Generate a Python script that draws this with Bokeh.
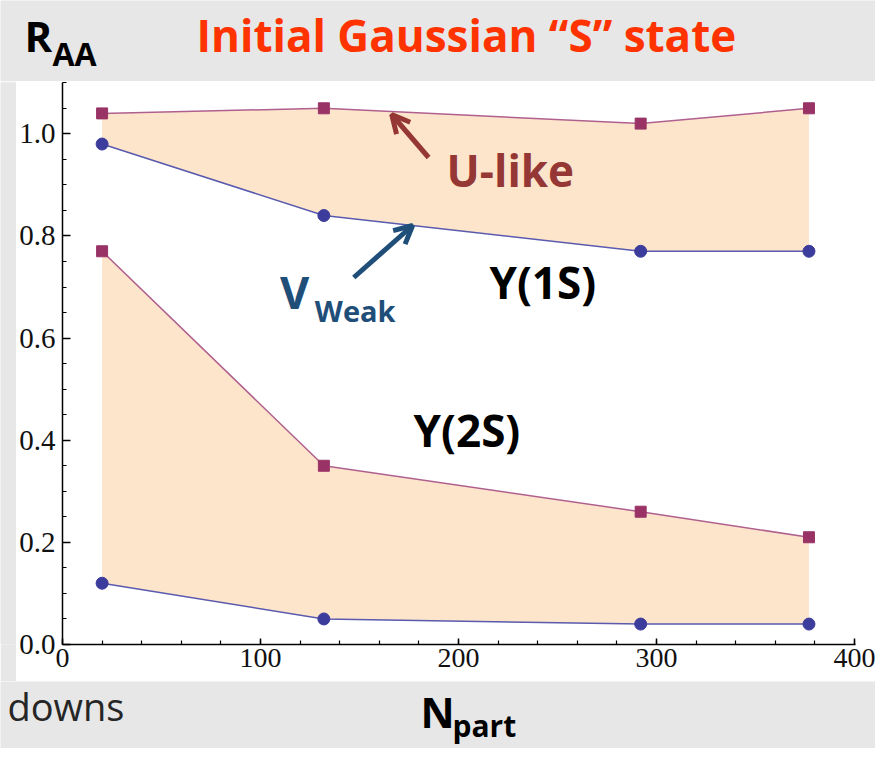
from bokeh.plotting import figure
from bokeh.models import (Range1d, Arrow, OpenHead, PrintfTickFormatter,
                          SingleIntervalTicker)
from bokeh.layouts import column, row
from bokeh.core.properties import value
from bokeh.embed import file_html
from bokeh.resources import INLINE

# ---- data ----
npart = [20, 132, 292, 377]
y1s_ulike = [1.04, 1.05, 1.02, 1.05]
y1s_vweak = [0.98, 0.84, 0.77, 0.77]
y2s_ulike = [0.77, 0.35, 0.26, 0.21]
y2s_vweak = [0.12, 0.05, 0.04, 0.04]
x_major = 100
y_major = 0.2

GREY = "#e7e7e7"
SANS = "Open Sans"
BASE_K = 0.43  # measured shift of the rendered baseline, in em

# ---- layout geometry (pixels from the layout's top-left corner) ----
TOTAL_W, TOTAL_H = 875, 748
PANEL_L, PANEL_T, PANEL_B = 16, 81, 681
FRAME_L, FRAME_T, FRAME_R, FRAME_B = 60, 82, 855, 644


def strip(y_top, y_bot, x_left=0, x_right=TOTAL_W):
    f = figure(width=x_right - x_left, height=y_bot - y_top,
               output_backend="svg", toolbar_location=None,
               x_range=Range1d(x_left, x_right), y_range=Range1d(y_bot, y_top),
               x_axis_type=None, y_axis_type=None,
               min_border=0, min_border_left=0, min_border_right=0,
               min_border_top=0, min_border_bottom=0,
               background_fill_color=GREY, border_fill_color=GREY,
               outline_line_color=None)
    f.grid.visible = False
    return f


def txt(f, s, x, base, size, color, bold=True, ymap=lambda v: v):
    f.text(x=[x], y=[ymap(base - BASE_K * size)], text=[s], text_font=value(SANS),
           text_font_size=value(f"{size}px"), text_color=color,
           text_font_style="bold" if bold else "normal",
           text_baseline="alphabetic", text_align="left")


# ---- top strip: R_AA and title ----
top = strip(0, PANEL_T)
txt(top, "R", 24, 53, 42, "black")
txt(top, "AA", 52, 67, 32, "black")
txt(top, "Initial Gaussian \u201cS\u201d state", 196, 53, 44, "#ff3300")

# ---- left grey spacer ----
spacer = strip(PANEL_T, PANEL_B, 0, PANEL_L)

# ---- main plot ----
X0, X1 = 0, 400.504
Y0, Y1 = 0, 1.1005
FW = FRAME_R - FRAME_L
FH = FRAME_B - FRAME_T


def fx(px):
    return X0 + (px - FRAME_L) * (X1 - X0) / FW


def fy(py):
    return Y1 - (py - FRAME_T) * (Y1 - Y0) / FH


p = figure(width=TOTAL_W - PANEL_L, height=PANEL_B - PANEL_T,
           output_backend="svg", toolbar_location=None,
           x_range=Range1d(X0, X1), y_range=Range1d(Y0, Y1),
           min_border_left=FRAME_L - PANEL_L, min_border_top=FRAME_T - PANEL_T,
           min_border_right=TOTAL_W - FRAME_R, min_border_bottom=PANEL_B - FRAME_B,
           border_fill_color="white", background_fill_color="white",
           outline_line_color=None)
p.xgrid.visible = False
p.ygrid.visible = False

p.xaxis.ticker = SingleIntervalTicker(interval=x_major, num_minor_ticks=5)
p.yaxis.ticker = SingleIntervalTicker(interval=y_major, num_minor_ticks=4)
p.yaxis.formatter = PrintfTickFormatter(format="%.1f")
for ax in (p.xaxis[0], p.yaxis[0]):
    ax.axis_line_color = "black"
    ax.axis_line_width = 1.5
    ax.major_tick_line_color = "black"
    ax.minor_tick_line_color = "black"
    ax.major_tick_line_width = 1.5
    ax.minor_tick_line_width = 1.2
    ax.major_tick_out = 0
    ax.minor_tick_out = 0
    ax.minor_tick_in = 4
    ax.major_label_text_font = "Liberation Serif"
    ax.major_label_text_color = "#111111"
p.yaxis.major_label_text_font_size = "29px"
p.xaxis.major_label_text_font_size = "28px"
p.yaxis.major_tick_in = 8
p.xaxis.major_tick_in = 6
p.yaxis.major_label_standoff = 7
p.xaxis.major_label_standoff = 4

FILL = "#fde5cc"
p.varea(x=npart, y1=y1s_vweak, y2=y1s_ulike, fill_color=FILL)
p.varea(x=npart, y1=y2s_vweak, y2=y2s_ulike, fill_color=FILL)

UL, UM = "#b0608e", "#993366"
VL, VM = "#5a5aae", "#3c3c9c"
for yu, yv in ((y1s_ulike, y1s_vweak), (y2s_ulike, y2s_vweak)):
    p.line(npart, yu, line_color=UL, line_width=1.5)
    p.line(npart, yv, line_color=VL, line_width=1.5)
    p.scatter(npart, yu, marker="square", size=11, fill_color=UM, line_color=UM)
    p.scatter(npart, yv, marker="circle", size=12, fill_color=VM, line_color=VM)

txt(p, "U-like", fx(445), 188, 44, "#953735", ymap=fy)
txt(p, "V", fx(278), 310, 45, "#1f4e79", ymap=fy)
txt(p, "Weak", fx(313), 322, 29, "#1f4e79", ymap=fy)
txt(p, "Y(1S)", fx(488), 300, 44, "black", ymap=fy)
txt(p, "Y(2S)", fx(412), 448, 44, "black", ymap=fy)

p.add_layout(Arrow(x_start=fx(427), y_start=fy(157), x_end=fx(390), y_end=fy(114),
                   line_color="#953735", line_width=5,
                   end=OpenHead(line_color="#953735", line_width=5, size=18)))
p.add_layout(Arrow(x_start=fx(352), y_start=fy(277), x_end=fx(411), y_end=fy(225),
                   line_color="#1f4e79", line_width=5,
                   end=OpenHead(line_color="#1f4e79", line_width=5, size=18)))

# ---- bottom strip: N_part and the cut-off slide text ----
bottom = strip(PANEL_B, TOTAL_H)
txt(bottom, "downs", 7, 722, 38, "#262626", bold=False)
txt(bottom, "N", 420, 729, 42, "black")
txt(bottom, "part", 452, 738, 30, "black")

layout = column(top, row(spacer, p), bottom)

open("out.html", "w").write(file_html(layout, INLINE))
